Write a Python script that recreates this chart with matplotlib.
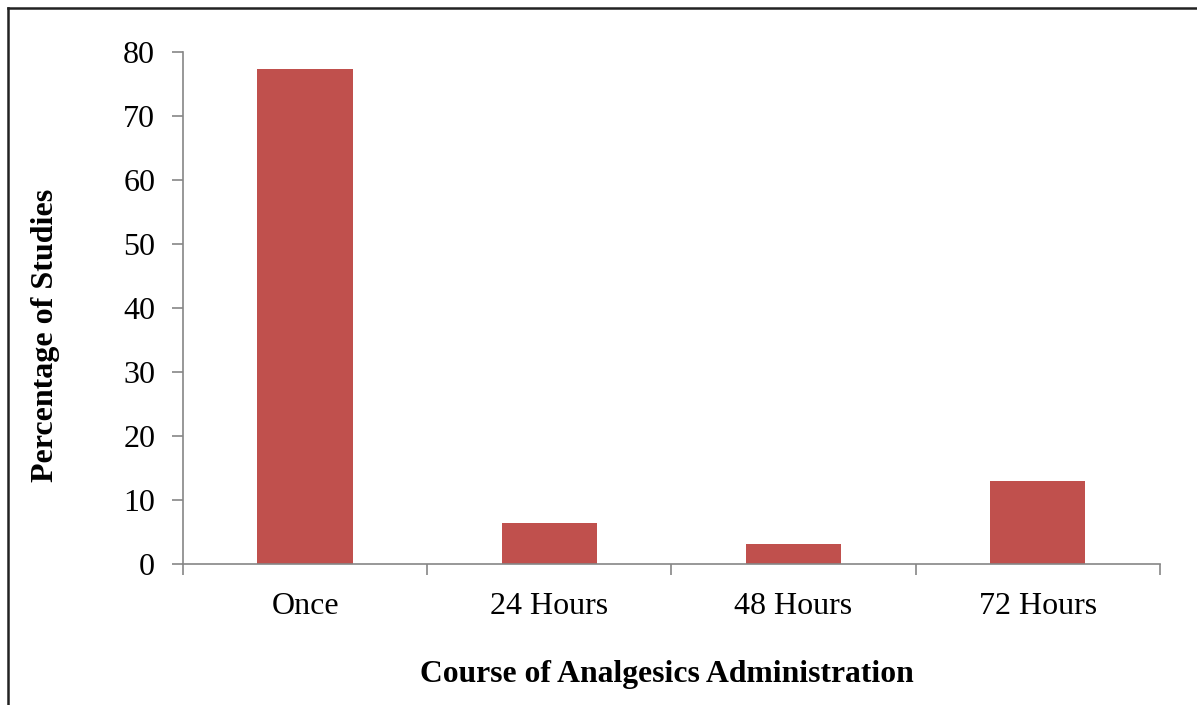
import matplotlib.pyplot as plt
from matplotlib.lines import Line2D

categories = ['Once', '24 Hours', '48 Hours', '72 Hours']
percent = [77.4, 6.4, 3.2, 12.9]

plt.rcParams['font.family'] = ['Liberation Serif', 'DejaVu Serif']

fig = plt.figure(figsize=(11.97, 7.05), dpi=100)
ax = fig.add_axes([0.1529, 0.2, 0.816, 0.726])

x = list(range(len(categories)))
ax.bar(x, percent, width=0.39, color='#C0504D', edgecolor='none')

ax.set_xlim(-0.5, len(categories) - 0.5)
ax.set_ylim(0, 80)
ax.set_yticks(range(0, 81, 10))
ax.set_xticks(x)
ax.set_xticklabels(categories)
ax.set_xticks([i - 0.5 for i in range(len(categories) + 1)], minor=True)

for s in ['top', 'right']:
    ax.spines[s].set_visible(False)
for s in ['left', 'bottom']:
    ax.spines[s].set_color('#868686')
    ax.spines[s].set_linewidth(1.2)

ax.tick_params(axis='y', length=8, width=1.2, color='#868686', labelsize=23, pad=12)
ax.tick_params(axis='x', which='major', length=0, labelsize=23, pad=20)
ax.tick_params(axis='x', which='minor', length=8, width=1.2, color='#868686')

ax.set_ylabel('Percentage of Studies', fontsize=23, fontweight='bold')
ax.set_xlabel('Course of Analgesics Administration', fontsize=22.8, fontweight='bold')
ax.yaxis.set_label_coords(-0.126, 0.447)
ax.xaxis.set_label_coords(0.495, -0.188)

# frame around the picture (left and top edges visible)
fig.add_artist(Line2D([8/1197, 8/1197], [0, 1 - 8/705], color='#222222', lw=1.8, transform=fig.transFigure))
fig.add_artist(Line2D([8/1197, 1], [1 - 8/705, 1 - 8/705], color='#222222', lw=1.8, transform=fig.transFigure))

fig.savefig('out.png', dpi=100)
